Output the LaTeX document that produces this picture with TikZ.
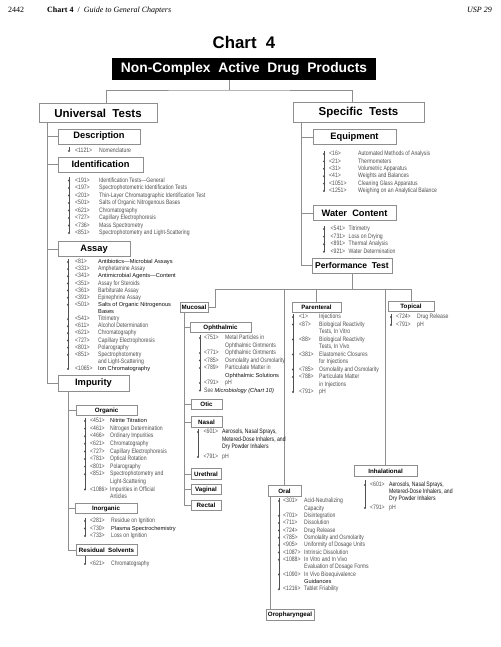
\documentclass[tikz,border=0pt]{standalone}
\usepackage{fontspec}
\setmainfont{Liberation Sans}
\newfontfamily\serifa{Liberation Serif}
\newfontfamily\estrecha[FakeStretch=0.8]{Liberation Sans}
\usetikzlibrary{positioning}
\definecolor{ink}{HTML}{111111}
\definecolor{linea}{HTML}{8E8E8E}
\definecolor{muted}{HTML}{505050}
\tikzset{
  cajagrande/.style={draw=linea,line width=0.8pt,fill=white,inner sep=0pt,minimum height=19.5pt,font=\bfseries\fontsize{11.5}{13}\selectfont},
  caja/.style={draw=linea,line width=0.8pt,fill=white,inner sep=0pt,minimum height=15pt,font=\bfseries\fontsize{9.3}{11}\selectfont},
  cajita/.style={draw=linea,line width=0.7pt,fill=white,inner sep=0pt,minimum height=10.5pt,font=\bfseries\fontsize{6.2}{7}\selectfont},
  conector/.style={draw=linea,line width=0.8pt},
  vineta/.style={draw=muted,line width=0.4pt},
  numero/.style={anchor=west,inner sep=0pt,text height=4.6pt,text depth=1.3pt,text=muted,font=\estrecha\fontsize{6.4}{7}\selectfont},
  titulo/.style={numero},
  oscuro/.style={numero,text=ink,font=\fontsize{5.7}{7}\selectfont},
  oscuroest/.style={numero,text=ink},
}
\newcounter{ncap}
\newcommand{\lista}[3]{\def\xvin{#1}\def\xnum{#2}\def\xtit{#3}}
\newcommand{\tallo}[2]{\draw[vineta] (\xvin,#1) -- (\xvin,#2);}
\newcommand{\capit}[4][titulo]{% [estilo] y, numero, titulo
  \stepcounter{ncap}%
  \fill[muted] (\xvin,#2) circle (1.1);
  \node[numero] (n\arabic{ncap}) at (\xnum,#2) {#3};
  \node[#1] (t\arabic{ncap}) at (\xtit,#2) {#4};}
\newcommand{\sigue}[3][titulo]{\stepcounter{ncap}\node[#1] (t\arabic{ncap}) at (\xtit,#2) {#3};}
\begin{document}
\begin{tikzpicture}[x=1pt,y=-1pt]
  \path[fill=white] (0,0) rectangle (500,647);
  % cabecera de la pagina
  \node[anchor=base west,inner sep=0pt,font=\serifa\fontsize{8}{10}\selectfont] (pagina) at (8,13) {2442};
  \node[anchor=base west,inner sep=0pt,font=\serifa\fontsize{8}{10}\selectfont] (encabezado) at (47,13) {\textbf{Chart 4}\ \ /\ \ \textit{Guide to General Chapters}};
  \node[anchor=base east,inner sep=0pt,font=\serifa\fontsize{8}{10}\selectfont] (usp) at (492,13) {\textit{USP 29}};
  \node[font=\bfseries\fontsize{16.8}{18}\selectfont] (grafico) at (244,42) {Chart\ \ 4};
  \node[fill=black,text=white,inner sep=0pt,minimum width=264pt,minimum height=22pt,font=\bfseries\fontsize{13.8}{15}\selectfont] (prod) at (244,69) {Non-Complex\ \ Active\ \ Drug\ \ Products};
  % dos ramas principales
  \node[cajagrande,minimum width=118pt] (univ) at (98,113) {Universal\ \ Tests};
  \node[cajagrande,minimum width=131pt] (spec) at (358.5,112.5) {Specific\ \ Tests};
  \coordinate (rama) at (229,90);
  \draw[conector] (prod.south -| rama) -- (rama);
  \draw[conector] ([xshift=8]univ.north) |- (rama) -| ([xshift=-6.5]spec.north);
  % pruebas universales
  \node[caja,minimum width=82pt] (desc) at (99,136.5) {Description};
  \node[caja,minimum width=85pt] (iden) at (100.5,164.5) {Identification};
  \node[caja,minimum width=72pt] (assay) at (94,249) {Assay};
  \node[caja,minimum width=71pt,minimum height=16pt] (impu) at (93.5,383) {Impurity};
  \foreach \c in {desc,iden,assay,impu} \draw[conector] ([xshift=9]univ.south west) |- (\c.west);
  \node[cajita,minimum width=61pt] (orga) at (106.5,410.5) {Organic};
  \node[cajita,minimum width=62pt] (inorg) at (106,508.5) {Inorganic};
  \node[cajita,minimum width=61pt] (resid) at (106.5,550) {Residual\ \ Solvents};
  \foreach \c in {orga,inorg,resid} \draw[conector] ([xshift=11]impu.south west) |- (\c.west);
  \lista{69}{75}{99}
  \tallo{147}{151}
  \capit{151}{<1121>}{Nomenclature}
  \tallo{177}{233}
  \capit{180.5}{<191>}{Identification Tests—General}
  \capit{188}{<197>}{Spectrophotometric Identification Tests}
  \capit{195.5}{<201>}{Thin-Layer Chromatographic Identification Test}
  \capit{203}{<501>}{Salts of Organic Nitrogenous Bases}
  \capit{210.5}{<621>}{Chromatography}
  \capit{218}{<727>}{Capillary Electrophoresis}
  \capit{225.5}{<736>}{Mass Spectrometry}
  \capit{233}{<851>}{Spectrophotometry and Light-Scattering}
  \lista{68}{75}{98}
  \tallo{259}{369}
  \capit[oscuro]{262}{<81>}{Antibiotics—Microbial Assays}
  \capit{269.1}{<331>}{Amphetamine Assay}
  \capit[oscuro]{276.3}{<341>}{Antimicrobial Agents—Content}
  \capit{283.4}{<351>}{Assay for Steroids}
  \capit{290.5}{<361>}{Barbiturate Assay}
  \capit{297.7}{<391>}{Epinephrine Assay}
  \capit[oscuro]{304.8}{<501>}{Salts of Organic Nitrogenous}
  \sigue[oscuro]{311.9}{Bases}
  \capit{319.1}{<541>}{Titrimetry}
  \capit{326.2}{<611>}{Alcohol Determination}
  \capit{333.3}{<621>}{Chromatography}
  \capit{340.5}{<727>}{Capillary Electrophoresis}
  \capit{347.6}{<801>}{Polarography}
  \capit{354.7}{<851>}{Spectrophotometry}
  \sigue{361.9}{and Light-Scattering}
  \capit[oscuro]{369}{<1065>}{Ion Chromatography}
  \lista{85}{90}{110}
  \tallo{418}{489.4}
  \capit[oscuro]{421}{<451>}{Nitrite Titration}
  \capit{428.6}{<461>}{Nitrogen Determination}
  \capit{436.2}{<466>}{Ordinary Impurities}
  \capit{443.8}{<621>}{Chromatography}
  \capit{451.4}{<727>}{Capillary Electrophoresis}
  \capit{459}{<781>}{Optical Rotation}
  \capit{466.6}{<801>}{Polarography}
  \capit{474.2}{<851>}{Spectrophotometry and}
  \sigue{481.8}{Light-Scattering}
  \capit{489.4}{<1086>}{Impurities in Official}
  \sigue{497}{Articles}
  \lista{85}{90}{111}
  \tallo{518}{536}
  \capit{521}{<281>}{Residue on Ignition}
  \capit[oscuro]{528.5}{<730>}{Plasma Spectrochemistry}
  \capit{536}{<733>}{Loss on Ignition}
  \tallo{555.5}{564}
  \capit{564}{<621>}{Chromatography}
  % pruebas especificas
  \node[caja,minimum width=83pt] (equip) at (354.5,137) {Equipment};
  \node[caja,minimum width=83pt] (agua) at (354.5,213) {Water\ \ Content};
  \node[caja,minimum width=80pt,font=\bfseries\fontsize{8.5}{10}\selectfont] (perf) at (352,265.5) {Performance\ \ Test};
  \foreach \c in {equip,agua,perf} \draw[conector] ([xshift=9]spec.south west) |- (\c.west);
  \lista{324}{329}{358}
  \tallo{151}{191}
  \capit{154}{<16>}{Automated Methods of Analysis}
  \capit{161.4}{<21>}{Thermometers}
  \capit{168.8}{<31>}{Volumetric Apparatus}
  \capit{176.2}{<41>}{Weights and Balances}
  \capit{183.6}{<1051>}{Cleaning Glass Apparatus}
  \capit{191}{<1251>}{Weighing on an Analytical Balance}
  \lista{324}{330.5}{348.5}
  \tallo{226}{251.8}
  \capit{229}{<541>}{Titrimetry}
  \capit{236.6}{<731>}{Loss on Drying}
  \capit{244.2}{<891>}{Thermal Analysis}
  \capit{251.8}{<921>}{Water Determination}
  % prueba de desempeno por via
  \coordinate (cmuc) at (215,289);
  \node[cajita,minimum width=28pt] (muco) at (194,307.5) {Mucosal};
  \node[cajita,minimum width=49pt] (paren) at (316.5,307.5) {Parenteral};
  \node[cajita,minimum width=46pt] (topi) at (411,306.5) {Topical};
  \node[cajita,minimum width=63pt] (inhal) at (385.5,471) {Inhalational};
  \node[cajita,minimum width=33pt] (oral) at (284.5,491) {Oral};
  \node[cajita,minimum width=48pt] (orof) at (290,615) {Oropharyngeal};
  \draw[conector] (perf.south) -- (perf.south |- cmuc);
  \draw[conector] (muco.east) -| (cmuc) -- (topi.north |- cmuc) -- (topi.north);
  \foreach \c in {oral,paren,inhal} \draw[conector] (\c.north) -- (\c.north |- cmuc);
  \draw[conector] ([xshift=3]oral.south west) -- ([xshift=5]orof.north west);
  \node[cajita,minimum width=61pt] (oft) at (220.5,327.5) {Ophthalmic};
  \node[cajita,minimum width=31pt] (otic) at (206.5,404.5) {Otic};
  \node[cajita,minimum width=31pt] (nasal) at (206.5,422) {Nasal};
  \node[cajita,minimum width=30pt] (uret) at (206,474) {Urethral};
  \node[cajita,minimum width=30pt] (vagi) at (206,489.5) {Vaginal};
  \node[cajita,minimum width=30pt] (rect) at (206,505.5) {Rectal};
  \foreach \c in {oft,otic,nasal,uret,vagi,rect} \draw[conector] ([xshift=5]muco.south west) |- (\c.west);
  \lista{200}{204}{225}
  \tallo{335}{390.5}
  \capit{338}{<751>}{Metal Particles in}
  \sigue{345.5}{Ophthalmic Ointments}
  \capit{353}{<771>}{Ophthalmic Ointments}
  \capit{360.5}{<785>}{Osmolality and Osmolarity}
  \capit{368}{<789>}{Particulate Matter in}
  \sigue[oscuro]{375.5}{Ophthalmic Solutions}
  \capit{383}{<791>}{pH}
  \fill[muted] (200,390.5) circle (1.1);
  \node[titulo] (ver) at (204,390.5) {See {\normalfont\itshape\fontsize{5.7}{7}\selectfont\color{ink}Microbiology (Chart 10)}};
  \lista{198}{203.5}{222}
  \tallo{429}{457}
  \capit[oscuroest]{432}{<601>}{Aerosols, Nasal Sprays,}
  \sigue[oscuroest]{439.5}{Metered-Dose Inhalers, and}
  \sigue[oscuroest]{447}{Dry Powder Inhalers}
  \capit{457}{<791>}{pH}
  \lista{293}{299}{319}
  \tallo{314}{392}
  \capit{317}{<1>}{Injections}
  \capit{324.5}{<87>}{Biological Reactivity}
  \sigue{332}{Tests, In Vitro}
  \capit{339.5}{<88>}{Biological Reactivity}
  \sigue{347}{Tests, In Vivo}
  \capit{354.5}{<381>}{Elastomeric Closures}
  \sigue{362}{for Injections}
  \capit{369.5}{<785>}{Osmolality and Osmolarity}
  \capit{377}{<788>}{Particulate Matter}
  \sigue{384.5}{in Injections}
  \capit{392}{<791>}{pH}
  \lista{391}{396}{417}
  \tallo{314}{325}
  \capit{317}{<724>}{Drug Release}
  \capit{325}{<791>}{pH}
  \lista{365}{370}{389}
  \tallo{480}{508}
  \capit[oscuroest]{485}{<601>}{Aerosols, Nasal Sprays,}
  \sigue[oscuroest]{492}{Metered-Dose Inhalers, and}
  \sigue[oscuroest]{499}{Dry Powder Inhalers}
  \capit{508}{<791>}{pH}
  \lista{279}{283}{304}
  \tallo{498}{589.2}
  \capit{501}{<301>}{Acid-Neutralizing}
  \sigue{508.35}{Capacity}
  \capit{515.7}{<701>}{Disintegration}
  \capit{523.05}{<711>}{Dissolution}
  \capit{530.4}{<724>}{Drug Release}
  \capit{537.75}{<785>}{Osmolality and Osmolarity}
  \capit{545.1}{<905>}{Uniformity of Dosage Units}
  \capit{552.45}{<1087>}{Intrinsic Dissolution}
  \capit{559.8}{<1088>}{In Vitro and In Vivo}
  \sigue{567.15}{Evaluation of Dosage Forms}
  \capit{574.5}{<1090>}{In Vivo Bioequivalence}
  \sigue[oscuro]{581.85}{Guidances}
  \capit{589.2}{<1216>}{Tablet Friability}
\end{tikzpicture}
\end{document}
